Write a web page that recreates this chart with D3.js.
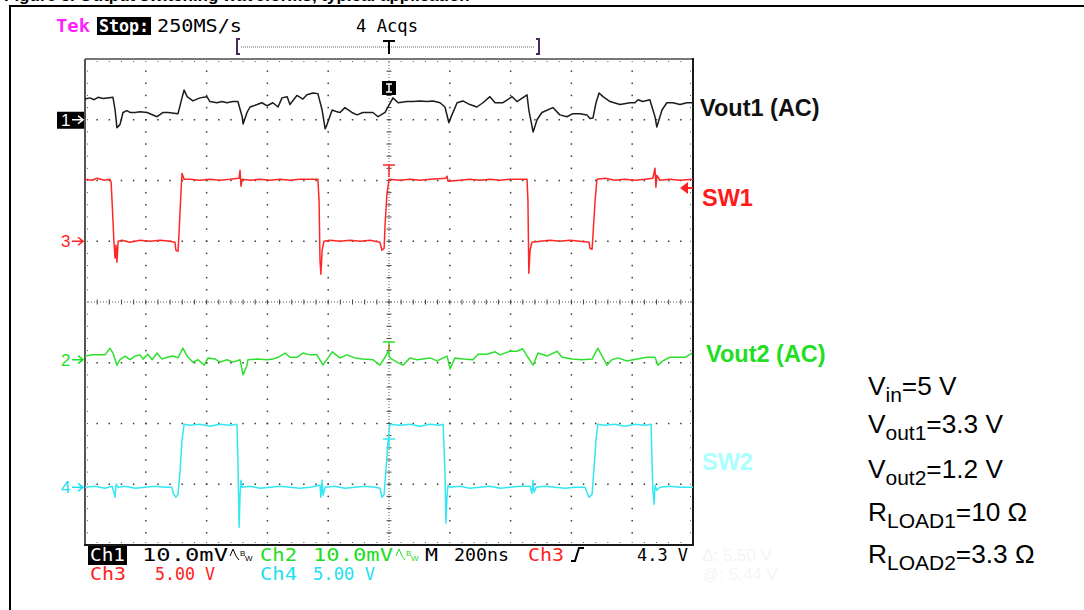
<!DOCTYPE html>
<html><head><meta charset="utf-8">
<script src="https://cdn.jsdelivr.net/npm/d3@7/dist/d3.min.js"></script>
<style>body{margin:0;background:#fff}svg{display:block}</style>
</head><body><svg id="c" width="1084" height="610"></svg>
<script>
// ---- Data (time in ns relative to trigger, values in channel units) ----
const timeDomainNs = [-1000, 1000];           // 200 ns/div, 10 divisions
const divDomain = [-4, 4];                    // 8 vertical divisions
const channelNames = ["Ch1", "Ch3", "Ch2", "Ch4"];
const traceLabels = ["Vout1 (AC)", "SW1", "Vout2 (AC)", "SW2"];
const voltsPerDiv = [10, 5, 10, 5];           // mV, V, mV, V
const offsetsDiv = [3.0, 1.0, -0.95, -3.05];

// Ch1 : Vout1 (AC), mV
const vout1 = [[-1000,3.4],[-984,3.6],[-970,3.3],[-957,3.7],[-940,3.5],[-908,3.7],[-901,1.6],[-895,-1.3],[-885,-0.8],[-875,1.2],[-862,1.5],[-852,1.2],[-835,1.2],[-819,1.3],[-796,1.2],[-763,0.5],[-743,1.2],[-727,1.2],[-694,1.0],[-681,3.6],[-674,4.9],[-664,3.8],[-645,3.1],[-622,3.6],[-599,3.8],[-589,3.0],[-566,2.8],[-549,3.0],[-533,2.8],[-513,3.0],[-497,3.0],[-483,0.5],[-480,-0.7],[-467,1.2],[-457,2.1],[-434,2.5],[-418,2.8],[-401,2.3],[-382,2.8],[-365,2.1],[-352,3.6],[-335,3.8],[-326,2.5],[-303,4.0],[-283,3.4],[-270,4.1],[-250,4.4],[-234,4.3],[-220,1.6],[-210,-1.5],[-204,-0.8],[-187,1.6],[-171,1.3],[-161,1.2],[-145,2.0],[-122,1.2],[-105,0.8],[-86,1.2],[-53,1.2],[-36,0.5],[-13,1.2],[13,3.6],[30,2.8],[59,3.0],[79,3.0],[102,3.1],[125,3.0],[145,3.1],[168,2.8],[184,2.1],[197,-0.5],[207,0.8],[224,2.8],[243,3.1],[266,2.5],[289,2.1],[309,2.8],[332,3.8],[349,2.8],[375,2.8],[405,3.8],[421,3.0],[454,4.1],[460,1.6],[474,-2.0],[487,0],[503,1.2],[539,2.0],[562,0.8],[585,0.5],[605,1.0],[628,1.0],[651,0.8],[661,0.2],[671,0.3],[681,2.8],[691,4.4],[704,3.8],[727,3.0],[760,2.5],[793,2.8],[809,2.8],[819,3.3],[835,3.0],[858,3.3],[875,0.5],[881,-1.2],[898,1.6],[914,2.8],[934,2.8],[957,2.5],[980,2.8],[997,2.8]];

// Ch3 : SW1, V
const sw1 = [[-1000,5.10],[-977,5.02],[-960,5.19],[-937,5.02],[-918,5.10],[-914,4.86],[-908,1.73],[-905,0],[-901,-1.40],[-898,-0.33],[-895,-1.73],[-891,0],[-878,0.08],[-852,-0.08],[-819,0.08],[-786,0],[-753,0.08],[-720,0],[-704,-0.08],[-701,-0.74],[-694,-0.82],[-691,0.49],[-684,4.20],[-681,5.60],[-674,5.10],[-655,5.10],[-622,5.02],[-589,5.10],[-556,5.02],[-523,5.10],[-493,5.19],[-490,5.84],[-487,4.53],[-483,5.10],[-457,5.02],[-424,5.10],[-391,5.02],[-359,5.10],[-326,5.02],[-293,5.10],[-234,5.10],[-230,3.37],[-227,-1.56],[-224,-2.72],[-220,-0.74],[-214,0],[-194,0.08],[-161,0],[-128,0.08],[-95,0],[-62,0.08],[-30,-0.08],[-23,-0.74],[-16,-0.58],[-13,1.32],[-7,3.79],[0,5.10],[36,5.02],[69,5.10],[102,5.02],[135,5.10],[187,5.19],[191,5.35],[194,4.94],[234,5.02],[266,5.10],[299,5.02],[332,5.10],[365,5.02],[398,5.10],[454,5.10],[457,3.37],[460,-2.63],[464,-0.74],[470,-0.08],[497,0],[530,0.08],[562,0],[595,0.08],[628,0],[658,-0.08],[661,-0.58],[668,-0.66],[671,0.49],[678,3.37],[684,5.10],[711,5.19],[743,5.02],[776,5.10],[809,5.02],[842,5.10],[868,5.19],[875,6.01],[878,4.44],[881,5.43],[891,5.02],[924,5.10],[957,5.02],[1000,5.10]];

// Ch2 : Vout2 (AC), mV
const vout2 = [[-1000,0.6],[-974,0.8],[-934,0.8],[-918,1.9],[-908,1.1],[-895,-0.9],[-885,0],[-868,0.6],[-852,0],[-835,0.6],[-819,0.8],[-809,0.1],[-793,0.9],[-779,0],[-763,1.1],[-747,0.1],[-730,0.4],[-710,0.6],[-694,0.3],[-678,1.9],[-664,0.6],[-645,-0.4],[-628,0],[-608,-0.9],[-595,0.3],[-572,0.1],[-556,-0.4],[-533,0],[-513,-0.4],[-490,0],[-480,-2.5],[-467,-0.9],[-464,0],[-434,0.1],[-401,0],[-382,0.1],[-365,0.4],[-342,1.1],[-326,0.4],[-303,0.4],[-283,1.1],[-260,0.8],[-237,0.8],[-217,-0.9],[-187,1.3],[-161,0.3],[-138,0.8],[-112,0.3],[-86,0.1],[-53,0],[-30,-0.9],[-13,0.4],[-3,1.4],[3,0.3],[26,-0.4],[46,-0.9],[69,0.3],[92,0],[135,0.3],[158,-0.2],[191,0.6],[201,-1.5],[217,0.3],[243,0.1],[276,0],[293,0.9],[322,0.9],[349,1.3],[365,0.8],[398,1.4],[421,1.4],[440,1.8],[457,0.4],[474,-0.9],[490,1.1],[520,0.6],[553,1.4],[569,0.4],[602,0.1],[635,0],[668,0.1],[687,1.9],[704,0.3],[717,-0.9],[733,0],[753,0.3],[783,-0.2],[803,0],[849,0.4],[875,0.4],[885,-0.9],[901,-0.2],[924,0.4],[947,0.4],[974,0.4],[997,1.1]];

// Ch4 : SW2, V
const sw2 = [[-1000,0],[-967,0.08],[-934,-0.08],[-911,0.08],[-905,-0.41],[-901,-0.82],[-898,0.25],[-891,0],[-868,0.08],[-835,-0.08],[-803,0],[-770,0.08],[-737,0],[-714,0],[-710,-0.49],[-701,-0.82],[-694,-0.58],[-687,1.40],[-681,3.87],[-674,5.19],[-655,5.10],[-622,5.19],[-589,5.02],[-556,5.19],[-523,5.10],[-500,5.19],[-497,2.22],[-493,-3.29],[-490,-0.66],[-487,0.58],[-483,0],[-457,0.08],[-424,-0.08],[-391,0],[-359,0.08],[-326,0],[-293,-0.08],[-260,0],[-227,0.16],[-224,-0.82],[-220,0.58],[-217,-0.66],[-210,0],[-178,0.08],[-145,-0.08],[-112,0],[-79,0.08],[-46,0],[-30,-0.08],[-23,-0.82],[-16,-0.58],[-10,1.40],[-3,3.87],[3,5.19],[36,5.10],[69,5.19],[102,5.02],[135,5.19],[168,5.10],[178,5.19],[184,1.40],[187,-2.96],[191,-0.66],[194,0.16],[201,0],[234,0.08],[266,-0.08],[299,0],[332,0.08],[365,-0.08],[398,0],[431,0.08],[464,0.08],[470,-0.49],[474,0.58],[477,-0.41],[484,0],[513,0.08],[546,0],[579,-0.08],[612,0],[645,0],[651,-0.41],[658,-0.82],[668,-0.58],[674,1.40],[681,3.87],[687,5.19],[711,5.10],[743,5.19],[776,5.02],[809,5.19],[842,5.10],[862,5.19],[865,2.22],[868,-0.25],[872,-1.40],[875,0.16],[881,-0.25],[891,0],[924,0.08],[957,0],[1000,0]];

const traces = [vout1, sw1, vout2, sw2];
const traceColors = ["#1c1c1c", "#ff2626", "#2ee02e", "#33e8f2"];
const labelColors = ["#111111", "#ff1a1a", "#22dd22", "#aaffff"];

// Settings / annotations
const headerTexts = ["Tek", "Stop:", "250MS/s", "4 Acqs"];
const footerRow1 = ["Ch1", "10.0mV", "Ch2", "10.0mV", "M", "200ns", "Ch3", "4.3 V"];
const footerRow2 = ["Ch3", "5.00 V", "Ch4", "5.00 V"];
const conditions = [["V","in","=5 V"],["V","out1","=3.3 V"],["V","out2","=1.2 V"],["R","LOAD1","=10 Ω"],["R","LOAD2","=3.3 Ω"]];

// ---- Drawing ----
const svg = d3.select("#c");
const x = d3.scaleLinear().domain(timeDomainNs).range([85, 693]);
const y = d3.scaleLinear().domain(divDomain).range([545, 59]);
const MONO = "'DejaVu Sans Mono', monospace";
const SANS = "'Liberation Sans', Arial, sans-serif";

// page title (cropped at top edge) and outer frame
svg.append("text").attr("x", 4).attr("y", 1).attr("font-family", SANS).attr("font-weight", "bold")
  .attr("font-size", 17).attr("fill", "#000").text("Figure 5.  Output switching waveforms, typical application");
svg.append("rect").attr("x", 0).attr("y", 4).attr("width", 1084).attr("height", 3).attr("fill", "#fff");
svg.append("line").attr("x1", 9).attr("x2", 1084).attr("y1", 6).attr("y2", 6).attr("stroke", "#000").attr("stroke-width", 2);
svg.append("line").attr("x1", 10).attr("x2", 10).attr("y1", 5).attr("y2", 610).attr("stroke", "#000").attr("stroke-width", 2);

// graticule
const g = svg.append("g");
const majX = d3.range(0, 11).map(i => timeDomainNs[0] + i * 200);
const minX = d3.range(0, 51).map(i => timeDomainNs[0] + i * 40);
const majY = d3.range(0, 9).map(i => divDomain[0] + i);
const minY = d3.range(0, 41).map(i => divDomain[0] + i * 0.2);
const dot = (cx, cy) => g.append("rect").attr("x", cx - 0.75).attr("y", cy - 0.75).attr("width", 1.5).attr("height", 1.5).attr("fill", "#3a3a3a");
majX.slice(1, -1).filter(v => v !== 0).forEach(v => minY.slice(1, -1).forEach(u => dot(x(v), y(u))));
majY.slice(1, -1).filter(u => u !== 0).forEach(u => minX.slice(1, -1).forEach(v => dot(x(v), y(u))));
// center crosshair
g.append("line").attr("x1", x(-1000)).attr("x2", x(1000)).attr("y1", y(0)).attr("y2", y(0))
  .attr("stroke", "#555").attr("stroke-width", 1).attr("stroke-dasharray", "1,2");
g.append("line").attr("x1", x(0)).attr("x2", x(0)).attr("y1", y(4)).attr("y2", y(-4))
  .attr("stroke", "#555").attr("stroke-width", 1).attr("stroke-dasharray", "1,2");
minX.slice(1, -1).forEach(v => g.append("line").attr("x1", x(v)).attr("x2", x(v)).attr("y1", y(0) - 2.5).attr("y2", y(0) + 2.5).attr("stroke", "#444"));
minY.slice(1, -1).forEach(u => g.append("line").attr("x1", x(0) - 2.5).attr("x2", x(0) + 2.5).attr("y1", y(u)).attr("y2", y(u)).attr("stroke", "#444"));
// border ticks
minX.slice(1, -1).forEach(v => {
  g.append("line").attr("x1", x(v)).attr("x2", x(v)).attr("y1", y(4)).attr("y2", y(4) + 4).attr("stroke", "#555").attr("stroke-dasharray", "1,1");
  g.append("line").attr("x1", x(v)).attr("x2", x(v)).attr("y1", y(-4)).attr("y2", y(-4) - 4).attr("stroke", "#555").attr("stroke-dasharray", "1,1");
});
minY.slice(1, -1).forEach(u => {
  g.append("line").attr("x1", x(-1000)).attr("x2", x(-1000) + 4).attr("y1", y(u)).attr("y2", y(u)).attr("stroke", "#555").attr("stroke-dasharray", "1,1");
  g.append("line").attr("x1", x(1000)).attr("x2", x(1000) - 4).attr("y1", y(u)).attr("y2", y(u)).attr("stroke", "#555").attr("stroke-dasharray", "1,1");
});
// frame
g.append("line").attr("x1", x(-1000)).attr("x2", x(1000)).attr("y1", y(4)).attr("y2", y(4)).attr("stroke", "#777").attr("stroke-width", 2);
g.append("line").attr("x1", x(-1000)).attr("x2", x(-1000)).attr("y1", y(4)).attr("y2", y(-4)).attr("stroke", "#555").attr("stroke-width", 2);
g.append("line").attr("x1", x(1000)).attr("x2", x(1000)).attr("y1", y(4) - 1).attr("y2", y(-4) + 1).attr("stroke", "#1a1a1a").attr("stroke-width", 2);
g.append("line").attr("x1", x(-1000) - 1).attr("x2", x(1000) + 1).attr("y1", y(-4)).attr("y2", y(-4)).attr("stroke", "#1a1a1a").attr("stroke-width", 2);

// traces
traces.forEach((data, i) => {
  const line = d3.line().x(d => x(d[0])).y(d => y(offsetsDiv[i] + d[1] / voltsPerDiv[i]));
  svg.append("path").datum(data).attr("d", line).attr("fill", "none")
    .attr("stroke", traceColors[i]).attr("stroke-width", 1.5).attr("stroke-linejoin", "round");
});

// channel ground markers
const markerNums = ["1", "3", "2", "4"];
const markerCols = ["#fff", "#ff2020", "#22dd22", "#22dff0"];
markerNums.forEach((n, i) => {
  const cy = y(offsetsDiv[i]);
  if (i === 0) svg.append("rect").attr("x", 57).attr("y", cy - 8).attr("width", 27).attr("height", 17).attr("fill", "#000");
  svg.append("text").attr("x", 61).attr("y", cy + 6).attr("font-family", SANS).attr("font-size", 17)
    .attr("fill", markerCols[i]).text(n);
  svg.append("path").attr("d", `M72,${cy}H82M78,${cy - 4}L83,${cy}L78,${cy + 4}`)
    .attr("stroke", markerCols[i]).attr("stroke-width", 1.6).attr("fill", "none");
});

// trigger markers
const tx = x(0);
svg.append("rect").attr("x", tx - 7).attr("y", 81).attr("width", 14).attr("height", 14).attr("fill", "#000");
svg.append("path").attr("d", `M${tx - 3},84H${tx + 3}M${tx},84V92M${tx - 3},92H${tx + 3}`).attr("stroke", "#fff").attr("stroke-width", 1.5);
const tMark = (yy, len, col) => svg.append("path").attr("d", `M${tx - 6},${yy}H${tx + 6}M${tx},${yy}V${yy + len}`).attr("stroke", col).attr("stroke-width", 1.5).attr("fill", "none");
tMark(165, 12, "#ff2626");
tMark(342, 12, "#2ee02e");
svg.append("line").attr("x1", tx).attr("x2", tx).attr("y1", 345).attr("y2", 351).attr("stroke", "#ff4040").attr("stroke-width", 1);
tMark(439, 10, "#33e8f2");
// trigger level arrow (right)
svg.append("path").attr("d", "M680,188L688,182L688,194Z").attr("fill", "#ff2020");
svg.append("line").attr("x1", 686).attr("x2", 693).attr("y1", 188).attr("y2", 188).attr("stroke", "#ff2020").attr("stroke-width", 2);

// header
const hdr = svg.append("g").attr("font-family", MONO).attr("font-size", 18);
hdr.append("text").attr("x", 56).attr("y", 32).attr("fill", "#ff22ff").attr("font-weight", "bold").attr("textLength", 34).attr("lengthAdjust", "spacingAndGlyphs").text(headerTexts[0]);
hdr.append("rect").attr("x", 97).attr("y", 17).attr("width", 54).attr("height", 18).attr("fill", "#000");
hdr.append("text").attr("x", 99).attr("y", 32).attr("fill", "#fff").attr("font-weight", "bold").attr("textLength", 50).attr("lengthAdjust", "spacingAndGlyphs").text(headerTexts[1]);
hdr.append("text").attr("x", 157).attr("y", 32).attr("fill", "#000").attr("textLength", 85).attr("lengthAdjust", "spacingAndGlyphs").text(headerTexts[2]);
hdr.append("text").attr("x", 356).attr("y", 32).attr("fill", "#000").attr("textLength", 62).attr("lengthAdjust", "spacingAndGlyphs").text(headerTexts[3]);
// record bracket
svg.append("path").attr("d", "M240,39H237V54H240M536,39H539V54H536").attr("stroke", "#4a2a5a").attr("stroke-width", 2).attr("fill", "none");
svg.append("line").attr("x1", 241).attr("x2", 535).attr("y1", 47).attr("y2", 47).attr("stroke", "#666").attr("stroke-dasharray", "1,1");
svg.append("path").attr("d", `M${tx - 6},41H${tx + 6}M${tx},41V54`).attr("stroke", "#000").attr("stroke-width", 2).attr("fill", "none");

// footer
const ft = svg.append("g").attr("font-family", MONO).attr("font-size", 18);
const ftxt = (xx, yy, s, col, w) => ft.append("text").attr("x", xx).attr("y", yy).attr("fill", col).attr("textLength", w).attr("lengthAdjust", "spacingAndGlyphs").text(s);
ft.append("rect").attr("x", 88).attr("y", 546).attr("width", 39).attr("height", 19).attr("fill", "#000");
ftxt(90, 561, footerRow1[0], "#fff", 35);
ftxt(142, 561, footerRow1[1], "#000", 86);
ftxt(260, 561, footerRow1[2], "#22dd22", 37);
ftxt(313, 561, footerRow1[3], "#22dd22", 80);
ftxt(425, 561, footerRow1[4], "#000", 13);
ftxt(454, 561, footerRow1[5], "#000", 55);
ftxt(528, 561, footerRow1[6], "#ff2020", 36);
ftxt(637, 561, footerRow1[7], "#000", 51);
ftxt(90, 580, footerRow2[0], "#ff2020", 36);
ftxt(155, 580, footerRow2[1], "#ff2020", 60);
ftxt(260, 580, footerRow2[2], "#22dff0", 37);
ftxt(313, 580, footerRow2[3], "#22dff0", 62);
// bandwidth-limit glyphs
const bw = (xx, col) => {
  svg.append("path").attr("d", `M${xx},556L${xx + 3},549L${xx + 6},556L${xx + 9},560`).attr("stroke", col).attr("stroke-width", 1).attr("fill", "none");
  svg.append("text").attr("x", xx + 10).attr("y", 556).attr("font-family", SANS).attr("font-size", 8).attr("fill", col).text("B");
  svg.append("text").attr("x", xx + 15).attr("y", 561).attr("font-family", SANS).attr("font-size", 8).attr("fill", col).text("W");
};
bw(230, "#000"); bw(396, "#22dd22");
// slope glyph
svg.append("path").attr("d", "M571,561H575L579,548H584").attr("stroke", "#000").attr("stroke-width", 2).attr("fill", "none");
// faint ghost text
svg.append("text").attr("x", 702).attr("y", 561).attr("font-family", SANS).attr("font-size", 17).attr("fill", "#f4f4f4").text("Δ: 5.50 V");
svg.append("text").attr("x", 702).attr("y", 580).attr("font-family", SANS).attr("font-size", 17).attr("fill", "#f5f5f5").text("@: 5.44 V");

// trace labels
const lblPos = [[700, 116], [702, 206], [706, 362], [702, 470]];
traceLabels.forEach((t, i) => {
  svg.append("text").attr("x", lblPos[i][0]).attr("y", lblPos[i][1]).attr("font-family", SANS)
    .attr("font-weight", "bold").attr("font-size", 23.5).attr("fill", labelColors[i]).text(t);
});

// operating conditions
const baseY = [395, 433, 478, 521, 563];
conditions.forEach((c, i) => {
  const t = svg.append("text").attr("transform", `translate(868,${baseY[i]}) scale(1.05,1)`)
    .attr("font-family", SANS).attr("font-size", 25).attr("fill", "#000");
  t.append("tspan").text(c[0]);
  t.append("tspan").attr("font-size", 20).attr("dy", 7).text(c[1]);
  t.append("tspan").attr("dy", -7).text(c[2]);
});
</script></body></html>
